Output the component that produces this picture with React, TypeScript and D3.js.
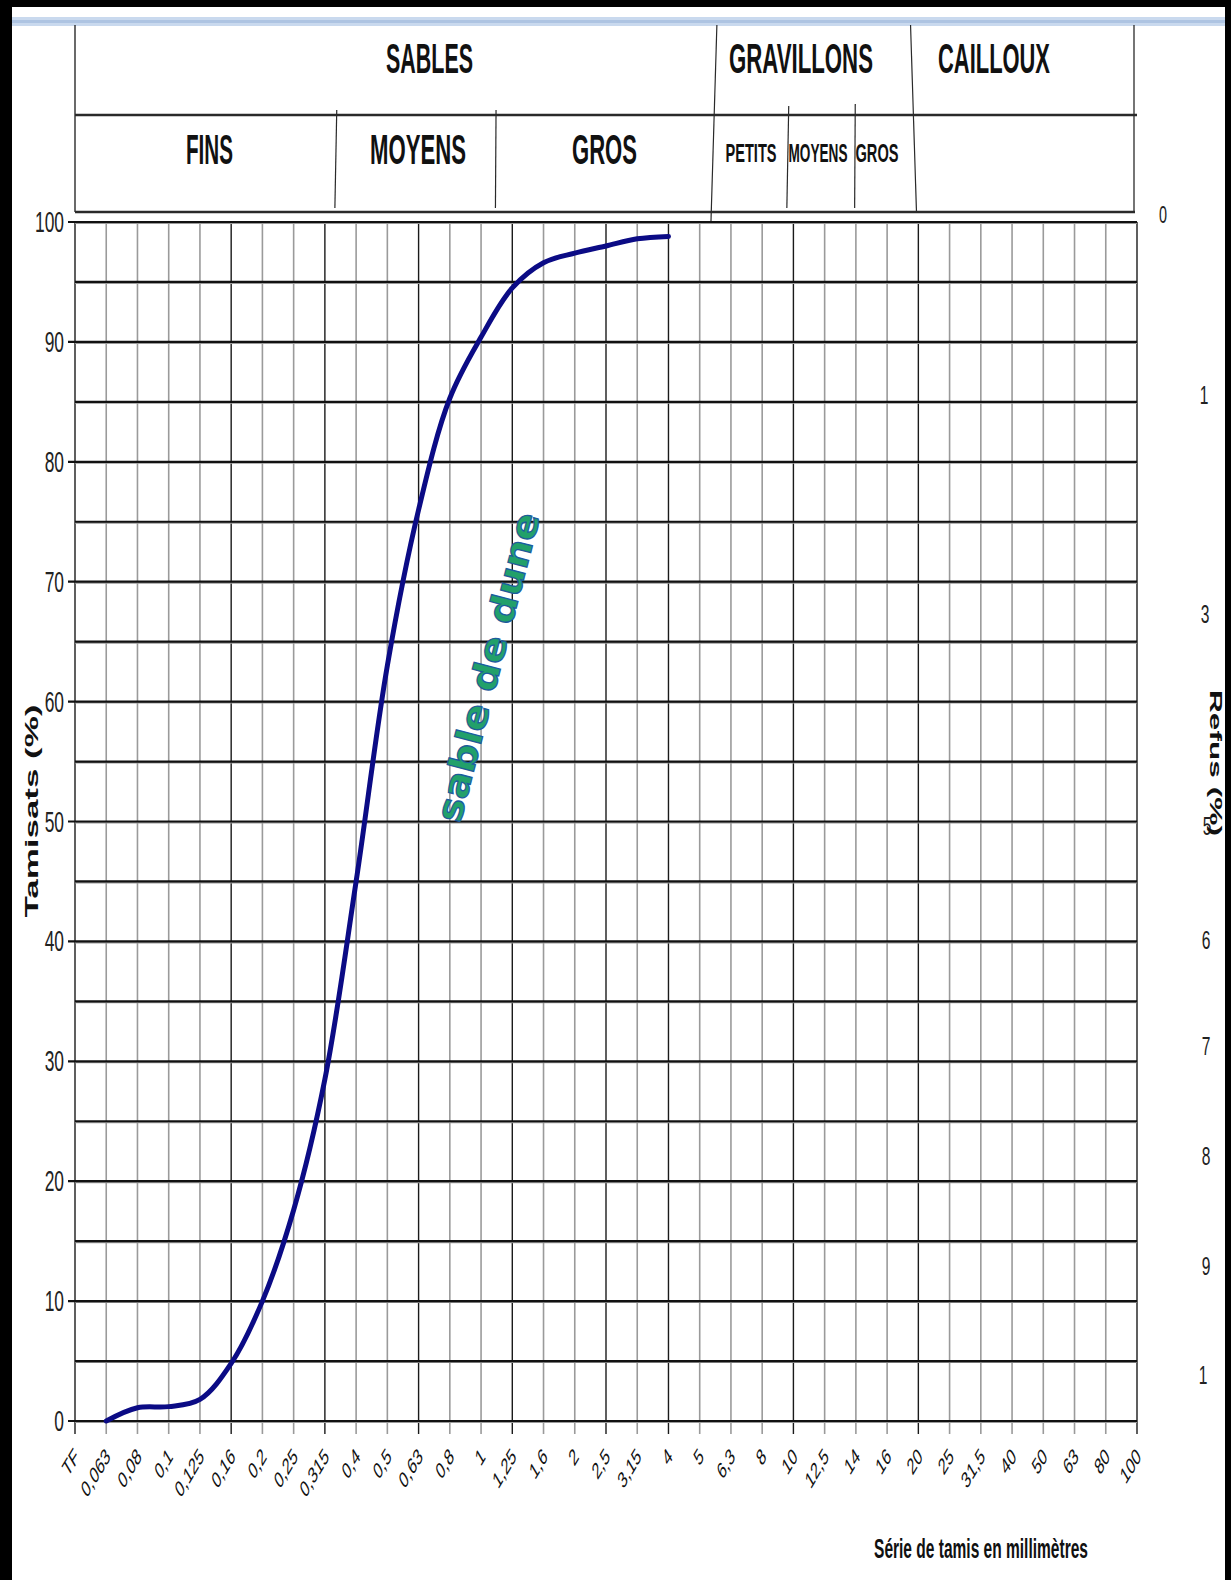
import React, { useLayoutEffect, useRef, useState } from "react";
import * as d3 from "d3";

// ---------- DATA ----------
const sieves = ["TF","0,063","0,08","0,1","0,125","0,16","0,2","0,25","0,315","0,4","0,5","0,63","0,8","1","1,25","1,6","2","2,5","3,15","4","5","6,3","8","10","12,5","14","16","20","25","31,5","40","50","63","80","100"];
const curveSieves = ["0,063","0,08","0,1","0,125","0,16","0,2","0,25","0,315","0,4","0,5","0,63","0,8","1","1,25","1,6","2","2,5","3,15","4"];
const passing = [0, 1.1, 1.2, 1.8, 4.8, 10, 17.6, 28.5, 45, 63, 76, 85.3, 90.4, 94.5, 96.6, 97.4, 98, 98.6, 98.8];
const yTicks = [0, 10, 20, 30, 40, 50, 60, 70, 80, 90, 100];
const gridLevels = [0, 5, 10, 15, 20, 25, 30, 35, 40, 45, 50, 55, 60, 65, 70, 75, 80, 85, 90, 95, 100];
const darkSieves = ["0,16", "0,315", "0,63", "1,25", "2,5", "4", "10", "20"];
const refusLabels = ["0", "1", "3", "5", "6", "7", "8", "9", "1"];
const refusAt = [100.7, 85.6, 67.3, 49.6, 40.1, 31.3, 22.1, 12.9, 3.8];
const topBands = ["SABLES", "GRAVILLONS", "CAILLOUX"];
const sandBands = ["FINS", "MOYENS", "GROS"];
const gravelBands = ["PETITS", "MOYENS", "GROS"];

// ---------- LAYOUT ----------
const W = 1231, H = 1580;
const PL = 75, PR = 1137, PT = 222, PB = 1421;
const topBandCx = [429.5, 801, 994];
const topBandLen = [87, 144, 112];
const sandCx = [209.5, 418, 604.5];
const sandLen = [47, 96, 65];
const gravCx = [751, 818, 877];
const gravLen = [51, 59, 43];
const refusX = [1163, 1204, 1205, 1207, 1206, 1206, 1206, 1206, 1203];

const NARROW = "'Liberation Sans Narrow', 'Liberation Sans', Arial, sans-serif";
const SANS = "'Liberation Sans', Arial, sans-serif";

function FitText(props: any) {
  const { x, y, len, rotate = 0, anchor = "middle", children, ...rest } = props;
  const ref = useRef<SVGTextElement>(null);
  const [s, setS] = useState(1);
  useLayoutEffect(() => {
    if (ref.current) {
      const w = ref.current.getComputedTextLength();
      if (w > 0) setS(len / w);
    }
  }, [len, children]);
  return (
    <text
      ref={ref}
      transform={`translate(${x}, ${y}) rotate(${rotate}) scale(${s}, 1)`}
      textAnchor={anchor}
      {...rest}
    >
      {children}
    </text>
  );
}

export default function App() {
  const x = d3.scaleLinear().domain([0, sieves.length - 1]).range([PL, PR]);
  const y = d3.scaleLinear().domain([0, 100]).range([PB, PT]);
  const xi = (s: string) => x(sieves.indexOf(s));

  const line = d3
    .line<number>()
    .x((_, i) => xi(curveSieves[i]))
    .y((d) => y(d))
    .curve(d3.curveCatmullRom.alpha(0.5));

  const headLine = "#2a2a2a";

  return (
    <svg
      width={W}
      height={H}
      viewBox={`0 0 ${W} ${H}`}
      style={{ position: "absolute", left: 0, top: 0, background: "#fff" }}
    >
      <rect x={0} y={0} width={W} height={H} fill="#fff" />
      {/* top light-blue band */}
      <rect x={12} y={17} width={1213} height={9} fill="#c9d9ee" />
      <rect x={12} y={20} width={1213} height={3} fill="#aec4e2" />

      {/* ---------- header ---------- */}
      <g stroke={headLine} fill="none">
        <line x1={PL} y1={25} x2={PL} y2={212} strokeWidth={1.4} />
        <line x1={PL} y1={115} x2={PR} y2={115} strokeWidth={2.6} />
        <line x1={PL} y1={212} x2={1135} y2={212} strokeWidth={2.6} />
        <line x1={1134} y1={25} x2={1134} y2={212} strokeWidth={1.3} />
        <line x1={x(20.55)} y1={25} x2={x(20.36)} y2={PT} strokeWidth={1.2} />
        <line x1={x(26.75)} y1={25} x2={x(26.94)} y2={212} strokeWidth={1.2} />
        <line x1={x(8.38)} y1={110} x2={x(8.32)} y2={208} strokeWidth={1.2} />
        <line x1={x(13.48)} y1={110} x2={x(13.46)} y2={208} strokeWidth={1.2} />
        <line x1={x(22.85)} y1={106} x2={x(22.79)} y2={208} strokeWidth={1.2} />
        <line x1={x(24.98)} y1={104} x2={x(24.96)} y2={208} strokeWidth={1.2} />
      </g>
      <g fontFamily={NARROW} fontWeight="bold" fill="#111">
        {topBands.map((t, i) => (
          <FitText key={"tb" + i} x={topBandCx[i]} y={73} len={topBandLen[i]} fontSize={42}>
            {t}
          </FitText>
        ))}
        {sandBands.map((t, i) => (
          <FitText key={"sb" + i} x={sandCx[i]} y={164} len={sandLen[i]} fontSize={42}>
            {t}
          </FitText>
        ))}
        {gravelBands.map((t, i) => (
          <FitText key={"gb" + i} x={gravCx[i]} y={162} len={gravLen[i]} fontSize={26}>
            {t}
          </FitText>
        ))}
      </g>

      {/* ---------- grid ---------- */}
      <g>
        {sieves.map((s, i) => {
          const dark = darkSieves.includes(s) || i === 0 || i === sieves.length - 1;
          return (
            <line
              key={"v" + i}
              x1={x(i)}
              x2={x(i)}
              y1={PT}
              y2={PB + 13}
              stroke={dark ? "#1a1a1a" : "#9a9a9a"}
              strokeWidth={dark ? 1.4 : 1.6}
            />
          );
        })}
        {gridLevels.map((v) => (
          <g key={"h" + v}>
            <line x1={PL} x2={PR} y1={y(v) + 1} y2={y(v) + 1} stroke="#9a9a9a" strokeWidth={2} />
            <line x1={yTicks.includes(v) ? PL - 7 : PL} x2={PR} y1={y(v)} y2={y(v)} stroke="#111" strokeWidth={2.2} />
          </g>
        ))}
      </g>

      {/* ---------- left axis labels ---------- */}
      <g fontFamily={SANS} fill="#222" textAnchor="end">
        {yTicks.map((v) => (
          <text key={"yl" + v} transform={`translate(64, ${y(v) + 10}) scale(0.6, 1)`} fontSize={29}>
            {v}
          </text>
        ))}
      </g>
      <FitText x={38} y={811} rotate={-90} len={213} fontFamily={SANS} fontWeight="bold" fontSize={19} fill="#111">
        Tamisats (%)
      </FitText>

      {/* ---------- right axis ---------- */}
      <g fontFamily={SANS} fill="#222" textAnchor="middle">
        {refusLabels.map((t, i) => (
          <text key={"r" + i} transform={`translate(${refusX[i]}, ${y(refusAt[i]) + 9}) scale(0.6, 1)`} fontSize={i === 0 ? 24 : 26}>
            {t}
          </text>
        ))}
      </g>
      <FitText x={1210} y={763} rotate={90} len={146} fontFamily={SANS} fontWeight="bold" fontSize={16} fill="#111">
        Refus (%)
      </FitText>

      {/* ---------- x labels ---------- */}
      <g fontFamily={SANS} fill="#111" textAnchor="end">
        {sieves.map((s, i) => (
          <text key={"xl" + i} transform={`translate(${x(i) + 5}, 1458) scale(0.6, 1) rotate(-45)`} fontSize={23}>
            {s}
          </text>
        ))}
      </g>
      <FitText x={981} y={1558} len={214} fontFamily={NARROW} fontWeight="bold" fontSize={27} fill="#111">
        Série de tamis en millimètres
      </FitText>

      {/* ---------- curve ---------- */}
      <path d={line(passing) || ""} fill="none" stroke="#0b0b85" strokeWidth={5} strokeLinecap="round" strokeLinejoin="round" />

      {/* ---------- annotation ---------- */}
      <FitText
        x={460}
        y={824}
        rotate={-75.4}
        len={318}
        anchor="start"
        fontFamily="'DejaVu Sans', Verdana, sans-serif"
        fontWeight="bold"
        fontSize={36}
        fill="#22a06a"
        stroke="#1d5c9c"
        strokeWidth={1.2}
      >
        sable de dune
      </FitText>

      {/* ---------- frame ---------- */}
      <rect x={0} y={0} width={12} height={H} fill="#000" />
      <rect x={0} y={0} width={W} height={7} fill="#000" />
      <rect x={1225} y={0} width={6} height={H} fill="#000" />
    </svg>
  );
}
